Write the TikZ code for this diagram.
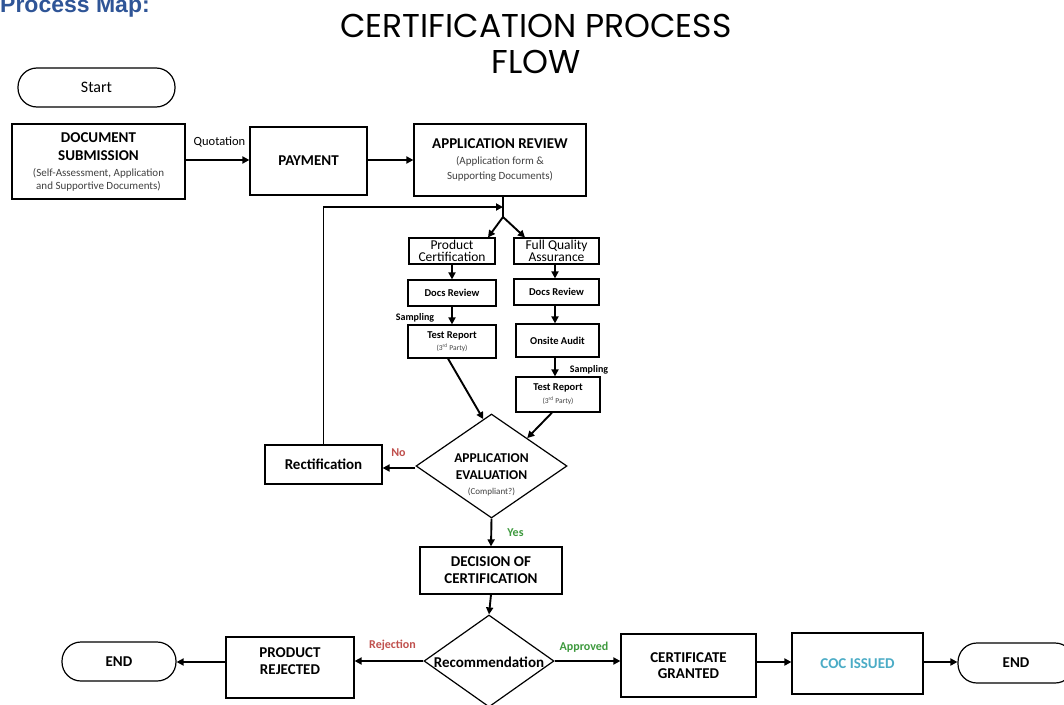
\documentclass[tikz,border=0pt]{standalone}
\usepackage{fontspec}
\setmainfont{Carlito}
\newfontfamily\titlefont{Poppins}
\newfontfamily\arialfont{Liberation Sans}
\usetikzlibrary{shapes.geometric,arrows.meta}
\definecolor{mapblue}{HTML}{2F5597}
\definecolor{nored}{HTML}{C0504D}
\definecolor{yesgreen}{HTML}{3E9A3E}
\definecolor{coccyan}{HTML}{4BACC6}
\definecolor{subgray}{HTML}{404040}
\newcommand{\hd}{\bfseries\fontsize{15}{18}\selectfont}
\newcommand{\sm}{\mdseries\fontsize{11}{13}\selectfont\color{subgray}}
\newcommand{\md}{\bfseries\fontsize{10.5}{12}\selectfont}
\newcommand{\tn}{\mdseries\fontsize{7.5}{12}\selectfont\color{subgray}}
\begin{document}
\begin{tikzpicture}[x=1pt,y=-1pt,
  box/.style={draw, line width=1.2pt, inner sep=0pt, align=center},
  term/.style={box, rounded corners=19pt},
  decide/.style={draw, shape=diamond, line width=1.2pt, inner sep=0pt},
  conn/.style={line width=1.9pt, -{Triangle[length=7pt,width=7pt]}},
  plainline/.style={line width=1.9pt},
  lab/.style={inner sep=0pt, font=\bfseries\fontsize{12}{14}\selectfont},
  txt/.style={inner sep=0pt, align=center}
]
\clip (0,0) rectangle (1064,704);
\fill[white] (0,0) rectangle (1064,704);

% headings
\node[anchor=base west, inner sep=0pt, text=mapblue, font=\arialfont\bfseries\fontsize{23}{26}\selectfont] (pm) at (0,12.5) {Process Map:};
\node[txt, font=\titlefont\fontsize{33}{36}\selectfont] (title) at (536,44) {CERTIFICATION PROCESS\\FLOW};

% nodes
\node[term, minimum width=157pt, minimum height=39pt, font=\fontsize{16}{18}\selectfont] (start) at (96.5,87.5) {Start};
\node[box, minimum width=173pt, minimum height=75pt, font=\fontsize{15}{18}\selectfont] (doc) at (98.5,161.5)
  {\hd DOCUMENT\\ \hd SUBMISSION\\[-2pt] \sm (Self-Assessment, Application\\[-5pt] \sm and Supportive Documents)};
\node[box, minimum width=117pt, minimum height=68pt] (pay) at (308.5,161) {\hd PAYMENT};
\node[box, minimum width=172pt, minimum height=72pt, font=\fontsize{15}{18}\selectfont] (rev) at (500,160)
  {\hd APPLICATION REVIEW\\[-2pt] \sm (Application form \&\\[-3pt] \sm Supporting Documents)};
\coordinate (j) at (503,217);
\coordinate (loopend) at (503,207);

\node[box, minimum width=86pt, minimum height=26pt, font=\fontsize{13.5}{12}\selectfont] (pc) at (452,251) {Product\\Certification};
\node[box, minimum width=85pt, minimum height=26pt, font=\fontsize{13.5}{12}\selectfont] (fqa) at (556.5,251) {Full Quality\\Assurance};
\node[box, minimum width=88pt, minimum height=26pt] (dr1) at (452,293) {\md Docs Review};
\node[box, minimum width=85pt, minimum height=26pt] (dr2) at (556.5,292) {\md Docs Review};
\node[box, minimum width=88pt, minimum height=33pt, font=\fontsize{10.5}{12}\selectfont] (tr1) at (452,341.5) {\md Test Report\\ \tn (3\textsuperscript{rd} Party)};
\node[box, minimum width=83pt, minimum height=33pt] (oa) at (557.5,340.5) {\md Onsite Audit};
\node[box, minimum width=84pt, minimum height=35pt, font=\fontsize{10.5}{13}\selectfont] (tr2) at (558,394.5) {\md Test Report\\ \tn (3\textsuperscript{rd} Party)};

\node[decide, minimum width=151pt, minimum height=104pt, aspect=1.45,
  label={[txt, yshift=-9pt, font=\fontsize{13.5}{17}\selectfont]center:{\bfseries\fontsize{13.5}{17}\selectfont APPLICATION\\ \bfseries\fontsize{13.5}{17}\selectfont EVALUATION\\[-2pt] \mdseries\fontsize{9}{15}\selectfont\color{subgray}(Compliant?)}}] (eval) at (491.5,466) {};
\node[box, minimum width=117pt, minimum height=39pt] (rect) at (323.5,464.5) {\hd Rectification};
\node[box, minimum width=142pt, minimum height=47pt, font=\fontsize{15}{17}\selectfont] (dec) at (491,570.5) {\hd DECISION OF\\ \hd CERTIFICATION};
\node[decide, minimum width=130pt, minimum height=92pt, aspect=1.41,
  label={[txt, yshift=-1pt]center:{\bfseries\fontsize{15}{18}\selectfont Recommendation}}] (rec) at (489,661) {};
\node[box, minimum width=128pt, minimum height=61pt,
  label={[txt, yshift=6pt, font=\fontsize{15}{17}\selectfont]center:{\hd PRODUCT\\ \hd REJECTED}}] (rej) at (290,667.5) {};
\node[term, minimum width=114pt, minimum height=39pt] (end1) at (119,661.5) {\hd END};
\node[box, minimum width=135pt, minimum height=63pt, font=\fontsize{15}{16.5}\selectfont] (cg) at (688.5,665.5) {\hd CERTIFICATE\\ \hd GRANTED};
\node[box, minimum width=131pt, minimum height=61pt, text=coccyan] (coc) at (857.5,663.5) {\hd COC ISSUED};
\node[term, minimum width=116pt, minimum height=40pt] (end2) at (1016,663) {\hd END};

% labels
\node[inner sep=0pt, font=\fontsize{12.5}{14}\selectfont] (quot) at (219.5,142) {Quotation};
\node[lab, font=\bfseries\fontsize{10}{12}\selectfont] (samp1) at (415,318) {Sampling};
\node[lab, font=\bfseries\fontsize{10}{12}\selectfont] (samp2) at (589,370) {Sampling};
\node[lab, text=nored] (no) at (398.5,453) {No};
\node[lab, text=yesgreen] (yes) at (515.5,533) {Yes};
\node[lab, text=nored] (rejl) at (392.5,645) {Rejection};
\node[lab, text=yesgreen] (appl) at (584,647) {Approved};

% connectors
\draw[conn] (doc.east |- 0,160) -- (pay.west |- 0,160);
\draw[conn] (pay.east |- 0,160) -- (rev.west |- 0,160);
\draw[plainline] ([xshift=3pt]rev.south) -- (j);
\draw[conn] (j) -- ([xshift=36pt]pc.north);
\draw[conn] (j) -- ([xshift=-31.5pt]fqa.north);
\draw[conn] (rect.north) -- (rect.north |- loopend) -- (loopend);
\draw[conn] (pc.south) -- (dr1.north);
\draw[conn] (dr1.south) -- (tr1.north);
\draw[conn] ([xshift=-1.5pt]fqa.south) -- ([xshift=-1.5pt]dr2.north);
\draw[conn] ([xshift=-1.5pt]dr2.south) -- (oa.north -| 555,0);
\draw[conn] (oa.south -| 555,0) -- (tr2.north -| 555,0);
\draw[conn] ([xshift=-4pt]tr1.south) -- (eval.100);
\draw[conn] ([xshift=-6pt]tr2.south) -- (eval.38);
\draw[conn] (eval.west |- 0,468) -- (rect.east |- 0,468);
\draw[conn] (eval.south) -- (dec.north);
\draw[conn] (dec.south) -- (rec.north);
\draw[conn] (rec.west) -- (rec.west -| rej.east);
\draw[conn] (rej.west |- 0,662) -- (end1.east |- 0,662);
\draw[conn] (rec.east) -- (rec.east -| cg.west);
\draw[conn] (cg.east |- 0,662) -- (coc.west |- 0,662);
\draw[conn] (coc.east |- 0,662) -- (end2.west |- 0,662);
\end{tikzpicture}
\end{document}
